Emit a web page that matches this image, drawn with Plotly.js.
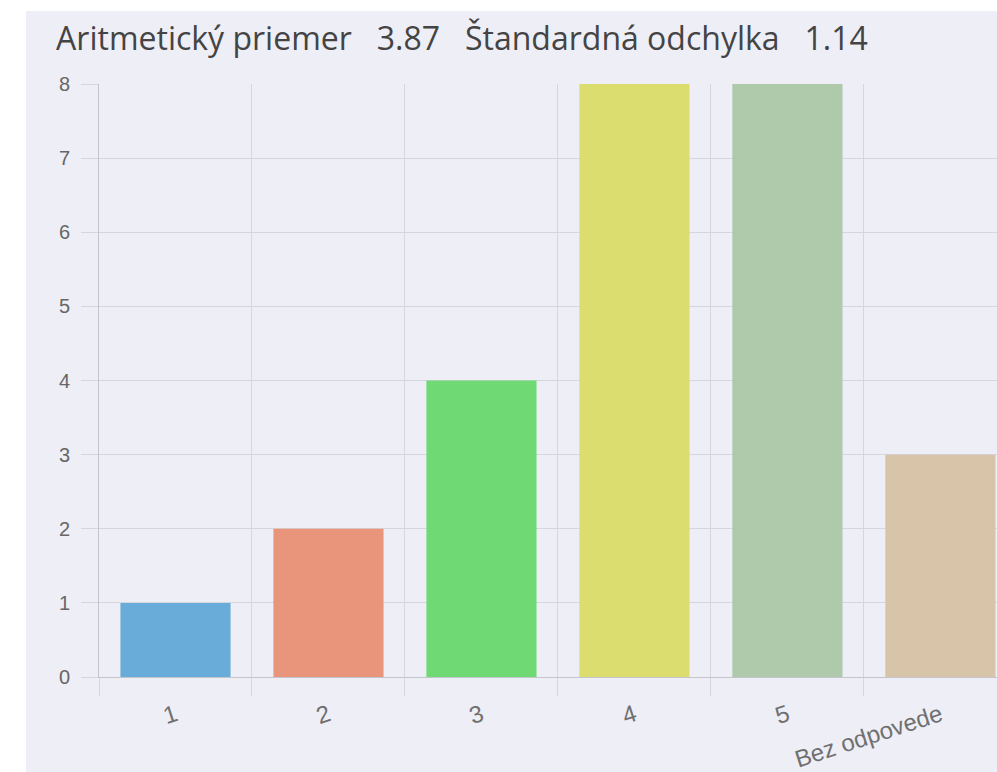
<!DOCTYPE html>
<html><head><meta charset="utf-8">
<script src="https://cdn.plot.ly/plotly-3.0.1.min.js"></script>
<style>
html,body{margin:0;padding:0;background:#ffffff;}
#chart{position:absolute;left:26px;top:11px;width:971px;height:761px;}
</style></head>
<body><div id="chart"></div>
<script>
const categories = ['1','2','3','4','5','Bez odpovede'];
const counts = [1,2,4,8,8,3];
const barColors = ['#69acd9','#e9957b','#6fd974','#dbdd6e','#aecaaa','#d7c4a9'];
const yTicks = [0,1,2,3,4,5,6,7,8];
const mean = '3.87';
const sd = '1.14';
const sp = '\u00a0\u00a0\u00a0';

const trace = {
  type:'bar', x:categories, y:counts,
  marker:{color:barColors, line:{width:0}},
  width:0.72, hoverinfo:'x+y'
};
const grid = '#d6d6de';
const layout = {
  width:971, height:761,
  paper_bgcolor:'#eeeef6', plot_bgcolor:'#eeeef6',
  margin:{l:73, r:0, t:73, b:95},
  title:{text:'Aritmetický priemer'+sp+mean+sp+'Štandardná odchylka'+sp+sd,
    font:{family:'Open Sans, Noto Sans, sans-serif', size:32, color:'#444444'},
    x:0.031, xanchor:'left', xref:'container', y:0.963, yanchor:'middle', yref:'container'},
  xaxis:{type:'category', range:[-0.5,5.37], tickson:'boundaries',
    showgrid:true, gridcolor:grid, gridwidth:1,
    ticks:'outside', ticklen:18, tickcolor:grid, tickwidth:1, ticklabelstandoff:14,
    tickangle:-18, tickfont:{family:'Liberation Sans, Arial, sans-serif', size:24, color:'#707070'},
    showline:true, linecolor:'#c4c4cc', linewidth:1, zeroline:false, fixedrange:true},
  yaxis:{range:[0,8], tickvals:yTicks, showgrid:true, gridcolor:grid, gridwidth:1,
    ticks:'outside', ticklen:17, tickcolor:grid, tickwidth:1, ticklabelstandoff:7,
    tickfont:{family:'Liberation Sans, Arial, sans-serif', size:20, color:'#666666'},
    showline:true, linecolor:'#c4c4cc', linewidth:1, zeroline:false, fixedrange:true},
  showlegend:false, bargap:0.28
};
Plotly.newPlot('chart',[trace],layout,{displayModeBar:false, staticPlot:true});
</script></body></html>
